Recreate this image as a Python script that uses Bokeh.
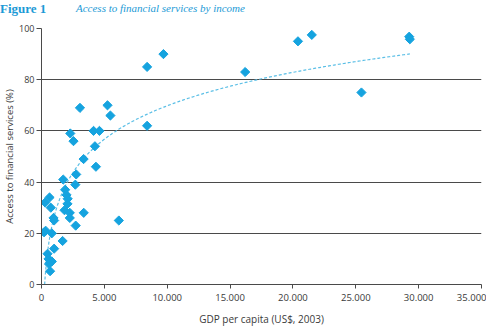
import numpy as np
from bokeh.plotting import figure
from bokeh.layouts import column
from bokeh.models import Div, FixedTicker, Range1d
from bokeh.embed import file_html
from bokeh.resources import INLINE

# GDP per capita (US$, 2003)
gdp = [8400, 9700, 16200, 20400, 21500, 25450, 29250, 29300, 8400, 6150,
       3060, 5250, 5480, 2290, 2545, 4140, 4610, 4250, 3350, 4330,
       2760, 1730, 2690, 1880, 1990, 2080, 2065, 1830, 2250, 3360,
       2250, 2720, 1680,
       290, 640, 740, 955, 1005, 200, 330, 820, 1005, 480,
       560, 684, 820, 600, 684]
# Access to financial services (%)
access = [85, 90, 83, 95, 97.5, 75, 96.8, 95.8, 62, 25,
          69, 70, 66, 59, 56, 60, 60, 54, 49, 46,
          43, 41, 39, 37, 35, 33.5, 31.5, 29, 28, 28,
          26, 23, 17,
          32, 34, 30, 26, 25, 20.4, 21, 20, 14, 12,
          10, 8.7, 9, 8, 5.2]

x_ticks = [0, 5000, 10000, 15000, 20000, 25000, 30000, 35000]
x_tick_labels = ["0", "5.000", "10.000", "15.000", "20.000", "25.000", "30.000", "35.000"]
y_ticks = [0, 20, 40, 60, 80, 100]

title_num = "Figure 1"
title_text = "Access to financial services by income"
x_label = "GDP per capita (US$, 2003)"
y_label = "Access to financial services (%)"

BLUE = "#15a3df"
TITLE_BLUE = "#1b9ad6"
GRID = "#4a4a4a"
TXT = "#3a3a3a"

header = Div(
    text=(
        f'<div style="position:relative;width:486px;height:22px;">'
        f'<span style="position:absolute;left:0px;top:0px;font-family:\'Liberation Serif\';'
        f'font-weight:bold;font-size:13px;line-height:17px;color:{TITLE_BLUE};">{title_num}</span>'
        f'<span style="position:absolute;left:76px;top:0px;font-family:\'Liberation Serif\';'
        f'font-style:italic;font-size:11px;line-height:17px;color:{TITLE_BLUE};">{title_text}</span>'
        f'</div>'
    ),
    width=486, height=22, margin=(0, 0, 0, 0),
)

p = figure(width=486, height=309, output_backend="svg", toolbar_location=None,
           x_range=Range1d(0, 35000), y_range=Range1d(0, 100), margin=(0, 0, 0, 0))
p.min_border = 0
p.min_border_left = 41
p.min_border_right = 5
p.min_border_top = 6
p.min_border_bottom = 47
p.outline_line_color = None
p.background_fill_color = "white"
p.border_fill_color = "white"

# trend line: logarithmic least-squares fit of the data
b, a = np.polyfit(np.log(gdp), access, 1)
tx = np.linspace(min(gdp), max(gdp), 300)
ty = a + b * np.log(tx)
p.line(tx, ty, line_color="#5bbfe6", line_width=1.2, line_dash="3 2")

p.scatter(gdp, access, marker="square", angle=np.pi / 4, size=6.5,
          fill_color=BLUE, line_color=BLUE)

p.xgrid.grid_line_color = None
p.ygrid.grid_line_color = GRID
p.ygrid.grid_line_width = 1
p.ygrid.ticker = FixedTicker(ticks=y_ticks)

xa = p.xaxis[0]
xa.ticker = FixedTicker(ticks=x_ticks)
xa.major_label_overrides = {t: l for t, l in zip(x_ticks, x_tick_labels)}
xa.axis_label = x_label
xa.axis_line_color = GRID
xa.major_tick_line_color = GRID
xa.major_tick_out = 4
xa.major_tick_in = 0
xa.minor_tick_line_color = None
xa.major_label_standoff = 5
xa.axis_label_standoff = 8
xa.major_label_text_font = "Open Sans"
xa.major_label_text_font_size = "9.5px"
xa.major_label_text_color = TXT
xa.axis_label_text_font = "Open Sans"
xa.axis_label_text_font_size = "10px"
xa.axis_label_text_font_style = "normal"
xa.axis_label_text_color = TXT

ya = p.yaxis[0]
ya.ticker = FixedTicker(ticks=y_ticks)
ya.axis_label = y_label
ya.axis_line_color = GRID
ya.major_tick_line_color = GRID
ya.major_tick_out = 5
ya.major_tick_in = 0
ya.minor_tick_line_color = None
ya.major_label_standoff = 2
ya.axis_label_standoff = 0
ya.major_label_text_font = "Open Sans"
ya.major_label_text_font_size = "9px"
ya.major_label_text_color = TXT
ya.axis_label_text_font = "Open Sans"
ya.axis_label_text_font_size = "9.5px"
ya.axis_label_text_font_style = "normal"
ya.axis_label_text_color = TXT

layout = column(header, p, spacing=0, margin=(0, 0, 0, 0))

open("out.html", "w").write(file_html(layout, INLINE))
